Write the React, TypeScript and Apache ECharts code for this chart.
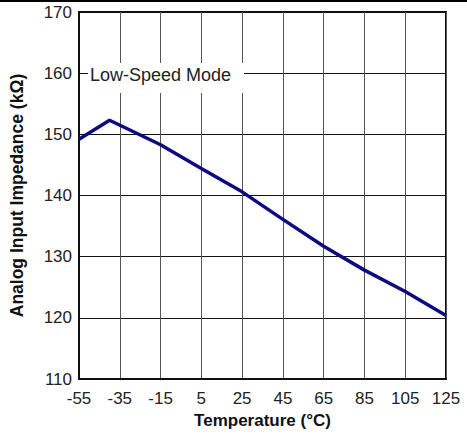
import React, { useEffect, useRef } from "react";
import * as echarts from "echarts";

const temperatures = [-55, -40, -15, 5, 25, 45, 65, 85, 105, 125];
const impedance = [149.2, 152.3, 148.3, 144.4, 140.6, 136.1, 131.7, 127.8, 124.3, 120.4];
const xTitle = "Temperature (°C)";
const yTitle = "Analog Input Impedance (kΩ)";
const annotation = "Low-Speed Mode";

export default function App() {
  const ref = useRef<HTMLDivElement>(null);
  useEffect(() => {
    document.body.style.margin = "0";
    const chart = echarts.init(ref.current!, null, { renderer: "svg" });
    const font = "Arial, 'Liberation Sans', Helvetica, sans-serif";
    chart.setOption({
      animation: false,
      backgroundColor: "#ffffff",
      grid: { left: 75, right: 21, top: 12, bottom: 56, show: true, borderColor: "#111", borderWidth: 2, backgroundColor: "transparent" },
      xAxis: {
        type: "value",
        min: -55,
        max: 125,
        interval: 20,
        name: xTitle,
        nameLocation: "middle",
        nameGap: 33,
        nameTextStyle: { fontFamily: font, fontSize: 17, fontWeight: "bold", color: "#111" },
        axisLine: { show: true, onZero: false, lineStyle: { color: "#111", width: 2 } },
        axisTick: { show: false },
        axisLabel: { fontFamily: font, fontSize: 17, color: "#222", margin: 11 },
        splitLine: { show: true, lineStyle: { color: "#555", width: 1 } },
      },
      yAxis: {
        type: "value",
        min: 110,
        max: 170,
        interval: 10,
        name: yTitle,
        nameLocation: "middle",
        nameGap: 53,
        nameTextStyle: { fontFamily: font, fontSize: 17.5, fontWeight: "bold", color: "#111" },
        axisLine: { show: true, onZero: false, lineStyle: { color: "#111", width: 2 } },
        axisTick: { show: false },
        axisLabel: { fontFamily: font, fontSize: 17, color: "#222", margin: 7 },
        splitLine: { show: true, lineStyle: { color: "#111", width: 1 } },
      },
      series: [
        {
          type: "line",
          data: temperatures.map((t, i) => [t, impedance[i]]),
          showSymbol: false,
          lineStyle: { color: "#0c0c80", width: 3.5 },
          z: 5,
        },
      ],
      graphic: [
        { type: "rect", shape: { x: 0, y: 0, width: 467, height: 2 }, style: { fill: "#000" } },
        { type: "rect", shape: { x: 88, y: 63, width: 156, height: 30 }, style: { fill: "#fff" }, z: 10 },
        {
          type: "text",
          x: 90,
          y: 75,
          z: 11,
          style: { text: annotation, fontFamily: font, fontSize: 18, fill: "#222", verticalAlign: "middle", align: "left" },
        },
      ],
    });
    return () => chart.dispose();
  }, []);
  return <div ref={ref} style={{ width: 467, height: 435 }} />;
}
